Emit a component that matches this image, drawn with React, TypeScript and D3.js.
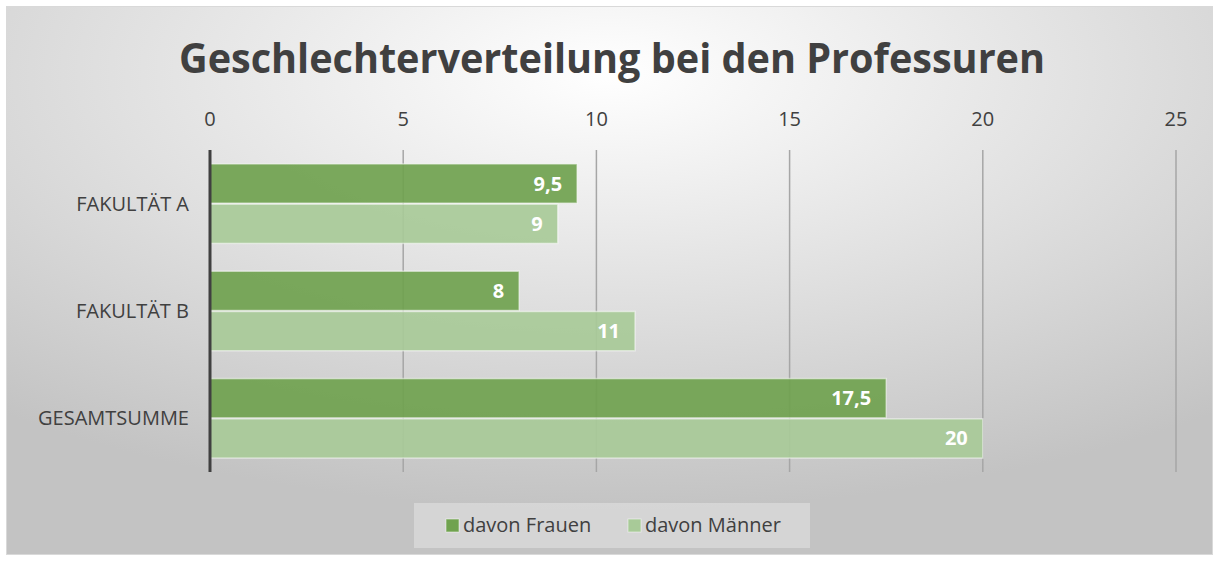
import { useEffect } from 'react'
import * as d3 from 'd3'

const categories = ['FAKULTÄT A', 'FAKULTÄT B', 'GESAMTSUMME']
const seriesNames = ['davon Frauen', 'davon Männer']
const frauen = [9.5, 8, 17.5]
const maenner = [9, 11, 20]
const ticks = [0, 5, 10, 15, 20, 25]
const colors = ['#70a24f', '#a8ca98']

const W = 1215, H = 561
const font = "'Open Sans', 'Liberation Sans', sans-serif"

export default function App() {
  useEffect(() => { document.body.style.margin = '0' }, [])

  const x = d3.scaleLinear().domain([0, 25]).range([210, 1176])
  const y0 = d3.scaleBand<string>().domain(categories).range([150, 472]).paddingInner(0.25).paddingOuter(0.125)
  const y1 = d3.scaleBand<string>().domain(seriesNames).range([0, y0.bandwidth()]).padding(0)
  const fmt = (v: number) => String(v).replace('.', ',')
  const rows = categories.map((c, i) => ({ c, vals: [frauen[i], maenner[i]] }))

  return (
    <svg width={W} height={H} style={{ display: 'block' }} fontFamily={font}>
      <defs>
        <radialGradient id="bg" cx="50%" cy="12%" r="80%" fx="50%" fy="12%">
          <stop offset="0" stopColor="#ffffff" />
          <stop offset="1" stopColor="#c3c3c3" />
        </radialGradient>
      </defs>
      <rect x={6.5} y={6.5} width={1206} height={548} fill="url(#bg)" stroke="#d9d9d9" strokeWidth={1} />
      <text x={612} y={73} textAnchor="middle" fontSize={41} fontWeight="bold" fill="#404040"
        textLength={866} lengthAdjust="spacingAndGlyphs">Geschlechterverteilung bei den Professuren</text>

      {ticks.map(t => (
        <g key={t}>
          {t > 0 && <line x1={x(t)} x2={x(t)} y1={150} y2={472} stroke="#a6a6a6" strokeWidth={1.5} />}
          <text x={x(t)} y={126} textAnchor="middle" fontSize={20} fill="#404040">{t}</text>
        </g>
      ))}

      {rows.map(r => (
        <g key={r.c} transform={`translate(0,${y0(r.c)})`}>
          <text x={189} y={y0.bandwidth() / 2} dy="0.35em" textAnchor="end" fontSize={20} fill="#404040">{r.c}</text>
          {r.vals.map((v, j) => (
            <g key={j}>
              <rect x={x(0)} y={y1(seriesNames[j])! + 0.5} width={x(v) - x(0)} height={y1.bandwidth() - 1}
                fill={colors[j]} fillOpacity={0.92} stroke="#ffffff" strokeOpacity={0.5} strokeWidth={1.5} />
              <text x={x(v) - 15} y={y1(seriesNames[j])! + y1.bandwidth() / 2} dy="0.35em" textAnchor="end"
                fontSize={20} fontWeight="bold" fill="#ffffff">{fmt(v)}</text>
            </g>
          ))}
        </g>
      ))}

      <line x1={x(0)} x2={x(0)} y1={150} y2={472} stroke="#404040" strokeWidth={3} />

      <rect x={414} y={503} width={396} height={45} fill="#ffffff" fillOpacity={0.3} />
      {seriesNames.map((s, i) => {
        const lx = [446, 628][i]
        return (
          <g key={s}>
            <rect x={lx} y={519} width={13} height={13} fill={colors[i]} stroke="#ffffff" strokeOpacity={0.5} />
            <text x={lx + 17} y={525} dy="0.35em" fontSize={20} fill="#404040">{s}</text>
          </g>
        )
      })}
    </svg>
  )
}
